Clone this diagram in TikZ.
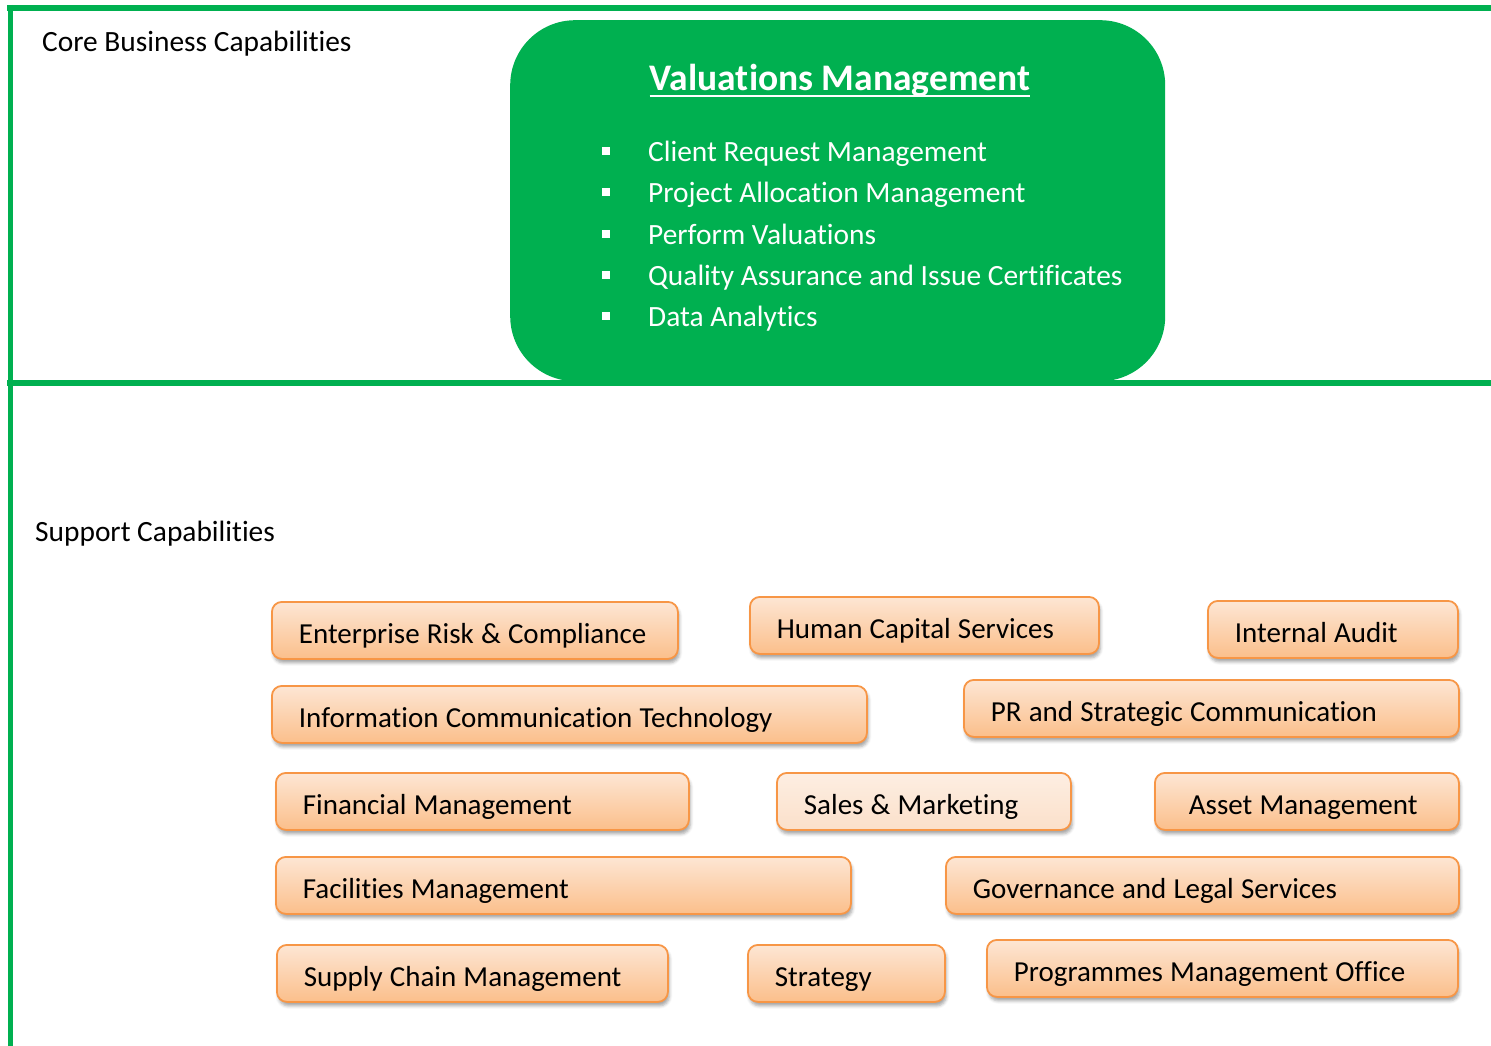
\documentclass[tikz,border=0pt]{standalone}
\usepackage{fontspec}
\setmainfont{Carlito}[Ligatures=NoCommon]
\usetikzlibrary{shadows.blur}
\definecolor{vgreen}{HTML}{00B050}
\definecolor{orbord}{HTML}{F79646}
\definecolor{ortop}{HTML}{FDE6D4}
\definecolor{orbot}{HTML}{FBBF8B}
\definecolor{pltop}{HTML}{FDEEE2}
\definecolor{plbot}{HTML}{FBE0CA}
\newcommand{\capfont}{\fontsize{29}{34}\selectfont}
\newcommand{\captext}[1]{\mbox{\spaceskip=7.2pt\relax #1}}
\begin{document}
\begin{tikzpicture}[x=1pt,y=-1pt,
  capbox/.style={draw=orbord, line width=1.8pt, rounded corners=10pt,
    top color=ortop, bottom color=orbot, anchor=north west,
    minimum height=57pt, inner xsep=27pt, inner ysep=0pt,
    text height=27pt, text depth=0pt, align=left,
    font=\capfont,
    blur shadow={shadow xshift=1.5pt, shadow yshift=-4pt, shadow blur radius=3pt, shadow opacity=35}},
  palebox/.style={capbox, top color=pltop, bottom color=plbot},
  plain/.style={anchor=base west, inner sep=0pt, font=\fontsize{29.4}{34}\selectfont},
  item/.style={plain, text=white, font=\fontsize{29.4}{34}\selectfont},
  frameline/.style={vgreen, line width=6pt}]
\useasboundingbox (0,0) rectangle (1491,1046);
% core capability box
\node[fill=vgreen, rounded corners=65pt, minimum width=655pt, minimum height=361pt,
  anchor=north west, inner sep=0pt] (vm) at (510,20) {};
% frame
\draw[frameline] (7,8) -- (1491,8);
\draw[frameline] (7,383) -- (1491,383);
\draw[vgreen, line width=5pt] (10,5) -- (10,1046);
% title and items
\node[anchor=base, inner sep=0pt, text=white, font=\fontsize{37.5}{42}\selectfont\bfseries] (vmt) at (840,91) {Valuations Management};
\draw[white, line width=2pt] (vmt.base west) ++(0,5) -- ([yshift=-5pt]vmt.base east);
\foreach \t [count=\i] in {Client Request Management, Project Allocation Management, Perform Valuations, Quality Assurance and Issue Certificates, Data Analytics}{
  \node[item] (it\i) at (648,{161.5+41.3*(\i-1)}) {\t};
  \fill[white] (602,{147+41.3*(\i-1)}) rectangle ++(8,8);
}
% section labels
\node[plain] (core) at (42,52) {Core Business Capabilities};
\node[plain] (supp) at (35,541) {Support Capabilities};
% support capability boxes
\node[capbox, minimum width=406pt, text width=352pt] (erc) at (271,601) {\captext{Enterprise Risk \& Compliance}};
\node[capbox, minimum width=349pt, text width=295pt] (hcs) at (749,596) {\captext{Human Capital Services}};
\node[capbox, minimum width=250pt, text width=196pt] (ia) at (1207,600) {\captext{Internal Audit}};
\node[capbox, minimum width=595pt, text width=541pt] (ict) at (271,685) {\captext{Information Communication Technology}};
\node[capbox, minimum width=495pt, text width=441pt] (pr) at (963,679) {\captext{PR and Strategic Communication}};
\node[capbox, minimum width=413pt, text width=359pt] (fm) at (275,772) {\captext{Financial Management}};
\node[palebox, minimum width=294pt, text width=240pt] (sm) at (776,772) {\captext{Sales \& Marketing}};
\node[capbox, minimum width=304pt, text width=250pt] (am) at (1154,772) {\captext{\hspace*{7pt}Asset Management}};
\node[capbox, minimum width=575pt, text width=521pt] (fac) at (275,856) {\captext{Facilities Management}};
\node[capbox, minimum width=513pt, text width=459pt] (gls) at (945,856) {\captext{Governance and Legal Services}};
\node[capbox, minimum width=391pt, text width=337pt] (scm) at (276,944) {\captext{Supply Chain Management}};
\node[capbox, minimum width=197pt, text width=143pt] (str) at (747,944) {\captext{Strategy}};
\node[capbox, minimum width=471pt, text width=417pt] (pmo) at (986,939) {\captext{Programmes Management Office}};
\end{tikzpicture}
\end{document}
